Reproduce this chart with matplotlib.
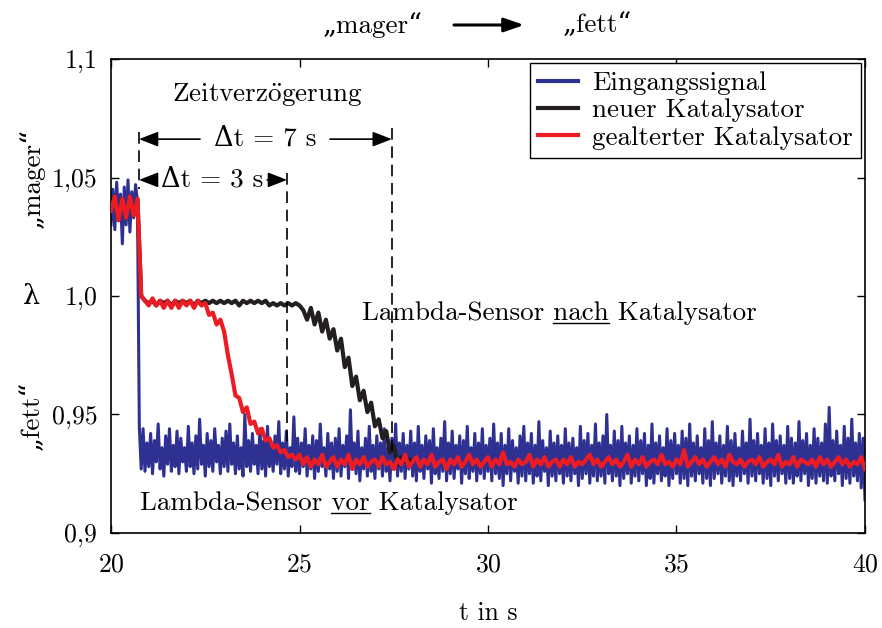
import numpy as np
import matplotlib.pyplot as plt
from matplotlib.lines import Line2D

plt.rcParams['font.family'] = ['cmr10', 'DejaVu Serif']
plt.rcParams['mathtext.fontset'] = 'cm'
plt.rcParams['axes.formatter.use_mathtext'] = True
plt.rcParams['font.size'] = 18.5
TXT = 19.5

# ---- data (lambda in 1/1000) ----
# Eingangssignal, sampled every 0.05 s from 20 s to 40 s
blue = [
    1030, 1045, 1028, 1048, 1032, 1043, 1022, 1046, 1030, 1049, 1027, 1044, 1033, 1047, 1040, 945, 927, 944, 926, 938,
    928, 942, 925, 939, 930, 946, 927, 936, 924, 941, 929, 944, 926, 937, 928, 943, 925, 940, 930, 936,
    926, 945, 928, 938, 925, 941, 927, 948, 929, 937, 924, 942, 928, 939, 926, 944, 930, 937, 925, 940,
    928, 943, 926, 946, 929, 938, 925, 941, 927, 936, 924, 950, 928, 939, 926, 942, 929, 937, 925, 944,
    927, 939, 924, 945, 928, 937, 926, 941, 929, 947, 925, 938, 927, 943, 924, 936, 928, 949, 926, 940,
    925, 938, 928, 944, 924, 937, 927, 941, 923, 939, 926, 946, 928, 936, 924, 942, 927, 938, 923, 940,
    926, 944, 924, 937, 928, 941, 923, 952, 927, 938, 925, 943, 922, 936, 927, 940, 924, 945, 926, 937,
    923, 941, 927, 938, 924, 944, 926, 936, 922, 940, 927, 946, 924, 938, 926, 942, 923, 937, 927, 943,
    924, 938, 922, 945, 926, 937, 923, 941, 927, 939, 921, 944, 925, 936, 923, 940, 926, 947, 922, 938,
    925, 943, 923, 937, 927, 941, 921, 939, 925, 945, 923, 936, 926, 942, 922, 938, 925, 944, 923, 937,
    926, 940, 922, 946, 925, 938, 923, 942, 920, 937, 925, 944, 922, 939, 926, 936, 921, 941, 924, 945,
    922, 938, 925, 942, 921, 937, 924, 947, 922, 939, 926, 936, 920, 943, 924, 938, 922, 941, 925, 937,
    921, 944, 924, 938, 922, 940, 925, 936, 920, 945, 923, 939, 925, 942, 921, 937, 924, 946, 922, 938,
    924, 941, 921, 950, 925, 937, 922, 943, 924, 939, 920, 945, 923, 938, 925, 941, 921, 937, 924, 944,
    922, 939, 925, 942, 920, 937, 923, 946, 921, 938, 925, 941, 922, 936, 924, 944, 920, 939, 923, 942,
    925, 937, 921, 943, 923, 940, 920, 946, 924, 938, 922, 941, 925, 936, 921, 944, 923, 939, 920, 947,
    923, 938, 925, 941, 921, 937, 924, 945, 922, 939, 920, 942, 924, 936, 922, 943, 925, 938, 921, 948,
    924, 939, 922, 942, 925, 937, 921, 944, 923, 938, 920, 946, 924, 939, 922, 941, 925, 937, 921, 945,
    923, 940, 921, 938, 924, 947, 922, 939, 925, 942, 920, 937, 923, 944, 921, 940, 924, 938, 922, 946,
    921, 953, 924, 939, 922, 943, 925, 937, 920, 945, 923, 940, 921, 948, 924, 938, 922, 942, 919, 940,
    914,
]
t_blue = np.round(np.arange(20.0, 40.0001, 0.05), 2)

# gealterter Katalysator, every 0.1 s from 20 s to 40 s
red = [
    1036, 1042, 1032, 1041, 1033, 1042, 1034, 1041, 1000, 998,
    996, 999, 996, 998, 995, 998, 995, 998, 995, 998,
    996, 998, 995, 998, 996, 997, 992, 993, 988, 990,
    985, 975, 967, 958, 957, 951, 953, 946, 947, 942,
    944, 939, 940, 936, 937, 934, 935, 932, 933, 931,
    933, 929, 932, 928, 931, 929, 933, 928, 930, 932,
    928, 931, 929, 933, 927, 931, 929, 932, 928, 930,
    931, 928, 932, 929, 930, 927, 931, 929, 933, 928,
    930, 932, 928, 931, 929, 933, 928, 930, 931, 927,
    931, 929, 932, 928, 930, 933, 929, 931, 928, 930,
    932, 928, 931, 929, 934, 929, 930, 928, 931, 929,
    930, 933, 928, 931, 929, 932, 928, 930, 931, 928,
    931, 929, 932, 928, 930, 929, 931, 933, 929, 931,
    928, 930, 932, 929, 931, 928, 930, 933, 928, 931,
    929, 932, 928, 930, 931, 929, 933, 929, 930, 928,
    931, 929, 935, 928, 930, 932, 929, 931, 928, 930,
    932, 929, 931, 928, 933, 930, 929, 931, 928, 930,
    931, 929, 932, 928, 930, 931, 929, 933, 928, 930,
    929, 932, 928, 931, 930, 929, 931, 928, 932, 929,
    931, 928, 930, 932, 929, 931, 928, 930, 929, 932,
    927,
]
t_red = np.round(np.arange(20.0, 40.0001, 0.1), 1)

# neuer Katalysator, every 0.1 s from 20 s to 28 s (afterwards hidden below red)
black = [
    1036, 1042, 1032, 1041, 1033, 1042, 1034, 1041, 1000, 998,
    997, 998, 996, 998, 997, 998, 996, 998, 997, 998,
    997, 998, 996, 998, 997, 998, 997, 998, 997, 998,
    997, 998, 997, 998, 996, 998, 997, 998, 997, 998,
    997, 998, 996, 997, 996, 997, 996, 997, 996, 997,
    996, 994, 990, 995, 988, 993, 985, 990, 982, 986,
    977, 982, 970, 974, 962, 966, 956, 960, 951, 955,
    945, 948, 940, 943, 934, 937, 929, 932, 930, 931,
    930,
]
t_black = np.round(np.arange(20.0, 28.0001, 0.1), 1)

yticks = [0.9, 0.95, 1.0, 1.05, 1.1]
ytick_labels = ["0,9", "0,95", "1,0", "1,05", "1,1"]
xticks = [20, 25, 30, 35, 40]

c_blue = "#2e3192"
c_black = "#231f20"
c_red = "#ed1c24"

fig = plt.figure(figsize=(8.82, 6.28), dpi=100)
ax = fig.add_axes([0.1259, 0.1513, 0.8548, 0.7547])

ax.plot(t_blue, np.array(blue) / 1000, color=c_blue, lw=2.2, zorder=2)
ax.plot(t_black, np.array(black) / 1000, color=c_black, lw=3.0, zorder=3)
ax.plot(t_red, np.array(red) / 1000, color=c_red, lw=3.0, zorder=4)

ax.set_xlim(20, 40)
ax.set_ylim(0.9, 1.1)
ax.set_xticks(xticks)
ax.set_yticks(yticks)
ax.set_yticklabels(ytick_labels)
ax.tick_params(axis='x', pad=14)
ax.tick_params(axis='y', pad=10)
ax.tick_params(direction='in', length=6, width=1, top=True, right=True)
for s in ax.spines.values():
    s.set_linewidth(1.2)
ax.set_xlabel("t in s", labelpad=18)

# ---- time delay markers ----
t0, t3, t7 = 20.74, 24.67, 27.45
dash = dict(color='k', lw=1.2, dashes=(7, 4), zorder=5)
ax.plot([t0, t0], [1.069, 1.045], **dash)
ax.plot([t3, t3], [1.052, 0.938], **dash)
ax.plot([t7, t7], [1.071, 0.933], **dash)

arr = dict(arrowstyle='-|>,head_length=0.9,head_width=0.35', mutation_scale=13,
           color='k', lw=1.2, shrinkA=0, shrinkB=0)
y7, y3 = 1.0662, 1.049
ax.annotate('', xy=(t0, y7), xytext=(22.36, y7), arrowprops=arr)
ax.annotate('', xy=(t7, y7), xytext=(25.81, y7), arrowprops=arr)
ax.text(24.08, y7, "Δt = 7 s", ha='center', va='center', fontsize=TXT)
ax.annotate('', xy=(t0, y3), xytext=(21.11, y3), arrowprops=arr)
ax.annotate('', xy=(t3, y3), xytext=(24.14, y3), arrowprops=arr)
ax.text(22.68, y3, "Δt = 3 s", ha='center', va='center', fontsize=TXT)
ax.text(21.62, 1.0848, r"Zeitverz$\ddot{\mathrm{o}}$gerung", ha='left', va='center', fontsize=TXT)


def underlined(x, y, pre, word, post):
    r = fig.canvas.get_renderer()
    t = ax.text(x, y, pre + word + post, ha='left', va='center', zorder=6, fontsize=TXT)
    bb = t.get_window_extent(r)

    def width(s):
        tmp = ax.text(0, 0, s, fontsize=TXT)
        w = tmp.get_window_extent(r).width
        tmp.remove()
        return w

    x0 = bb.x0 + width(pre.rstrip() + " " + word[0]) - width(word[0])
    x1 = bb.x0 + width(pre.rstrip() + " " + word)
    inv = ax.transData.inverted()
    (dx0, dy), (dx1, _) = inv.transform([(x0, bb.y0 + 2), (x1, bb.y0 + 2)])
    ax.add_line(Line2D([dx0, dx1], [dy, dy], color='k', lw=1.0, clip_on=False))


underlined(26.66, 0.9928, "Lambda-Sensor ", "nach", " Katalysator")
underlined(20.77, 0.9127, "Lambda-Sensor ", "vor", " Katalysator")

# ---- legend ----
handles = [Line2D([], [], color=c_blue, lw=3),
           Line2D([], [], color=c_black, lw=3),
           Line2D([], [], color=c_red, lw=3)]
leg = ax.legend(handles, ["Eingangssignal", "neuer Katalysator", "gealterter Katalysator"],
                loc='upper right', fancybox=False, framealpha=1, edgecolor='k',
                borderaxespad=0.15, handlelength=1.5, handletextpad=0.5,
                labelspacing=0.12, borderpad=0.3, fontsize=TXT)
leg.get_frame().set_linewidth(1.0)

# ---- side labels ----
fig.text(0.036, 1 - 178 / 628, "„mager“", rotation=90, ha='center', va='center', fontsize=TXT)
fig.text(0.036, 1 - 297 / 628, "λ", ha='center', va='center', fontsize=TXT)
fig.text(0.036, 1 - 415 / 628, "„fett“", rotation=90, ha='center', va='center', fontsize=TXT)

# ---- top label ----
fig.text(373 / 882, 1 - 25 / 628, "„mager“", ha='center', va='center', fontsize=TXT)
fig.text(597 / 882, 1 - 25 / 628, "„fett“", ha='center', va='center', fontsize=TXT)
fig.add_artist(plt.Annotation('', xy=(524 / 882, 1 - 25 / 628), xytext=(454 / 882, 1 - 25 / 628),
                              xycoords='figure fraction', textcoords='figure fraction',
                              arrowprops=dict(arrowstyle='-|>,head_length=1.0,head_width=0.35',
                                              mutation_scale=12, color='k', lw=2.2,
                                              shrinkA=0, shrinkB=0)))

fig.savefig("out.png", dpi=100)
